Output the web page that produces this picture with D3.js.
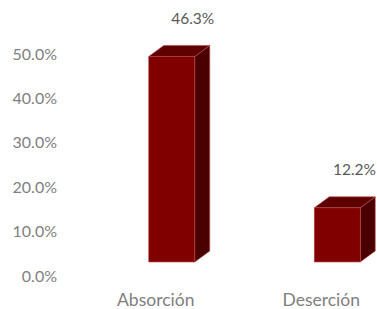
<!DOCTYPE html>
<html>
<head>
<meta charset="utf-8">
<script src="https://cdn.jsdelivr.net/npm/d3@7"></script>
<style>
  body { margin: 0; background: #fff; }
  text { font-family: Lato, "Open Sans", sans-serif; }
</style>
</head>
<body>
<svg id="chart" width="377" height="309"></svg>
<script>
var categories = ["Absorción", "Deserción"];
var values = [46.3, 12.2];
var yTicks = [0, 10, 20, 30, 40, 50];

var frontColor = "#800000";
var topColor = "#5e0000";
var sideColor = "#4a0000";
var edgeColor = "#b84a4a";

var width = 377;
var svg = d3.select("#chart");

// category scale, band centres sit under the labels
var xScale = d3.scaleBand()
    .domain(categories)
    .range([73, 404]);

// axis labels live on the back wall
var yScale = d3.scaleLinear()
    .domain([0, 50])
    .range([276, 54]);

var depthX = 15, depthY = 11;   // 3d offset of the bar back
var floorShift = 14;            // front face sits above the wall baseline
var barW = 46;

svg.append("g")
    .attr("class", "y axis")
    .selectAll("text")
    .data(yTicks)
    .enter().append("text")
    .attr("x", 57)
    .attr("y", function(d) { return yScale(d); })
    .attr("dy", "0.35em")
    .attr("text-anchor", "end")
    .style("fill", "#808080")
    .style("font-size", "16px")
    .text(function(d) { return d3.format(".1f")(d) + "%"; });

svg.append("g")
    .attr("class", "x axis")
    .selectAll("text")
    .data(categories)
    .enter().append("text")
    .attr("x", function(d) { return xScale(d) + xScale.bandwidth() / 2; })
    .attr("y", 300)
    .attr("dy", "0.35em")
    .attr("text-anchor", "middle")
    .style("fill", "#808080")
    .style("font-size", "17.5px")
    .text(function(d) { return d; });

var bars = svg.selectAll(".bar")
    .data(categories.map(function(c, i) { return {cat: c, value: values[i]}; }))
    .enter().append("g")
    .attr("class", "bar");

function geom(d) {
    var x0 = xScale(d.cat) + xScale.bandwidth() / 2 - 7;
    var x1 = x0 + barW;
    var yb = yScale(0) - floorShift;
    var yt = yScale(d.value) - floorShift;
    return {x0: x0, x1: x1, yb: yb, yt: yt};
}

// side face
bars.append("path")
    .attr("d", function(d) {
        var g = geom(d);
        return "M" + g.x1 + "," + g.yt + "L" + (g.x1 + depthX) + "," + (g.yt - depthY) +
            "L" + (g.x1 + depthX) + "," + (g.yb - depthY) + "L" + g.x1 + "," + g.yb + "Z";
    })
    .style("fill", sideColor)
    .style("stroke", edgeColor)
    .style("stroke-width", 0.6);

// top face
bars.append("path")
    .attr("d", function(d) {
        var g = geom(d);
        return "M" + g.x0 + "," + g.yt + "L" + (g.x0 + depthX) + "," + (g.yt - depthY) +
            "L" + (g.x1 + depthX) + "," + (g.yt - depthY) + "L" + g.x1 + "," + g.yt + "Z";
    })
    .style("fill", topColor)
    .style("stroke", edgeColor)
    .style("stroke-width", 0.6);

// front face
bars.append("rect")
    .attr("x", function(d) { return geom(d).x0; })
    .attr("y", function(d) { return geom(d).yt; })
    .attr("width", barW)
    .attr("height", function(d) { var g = geom(d); return g.yb - g.yt; })
    .style("fill", frontColor)
    .style("stroke", edgeColor)
    .style("stroke-width", 0.6);

// value labels, kept inside the right edge
bars.append("text")
    .attr("y", function(d) { return geom(d).yt - depthY - 27; })
    .attr("dy", "0.35em")
    .attr("text-anchor", "middle")
    .style("fill", "#595959")
    .style("font-size", "15.5px")
    .text(function(d) { return d3.format(".1f")(d.value) + "%"; })
    .attr("x", function(d) {
        var half = this.getComputedTextLength() / 2;
        var cx = geom(d).x0 + barW / 2 + 21;
        return Math.min(cx, width - half - 1);
    });
</script>
</body>
</html>
